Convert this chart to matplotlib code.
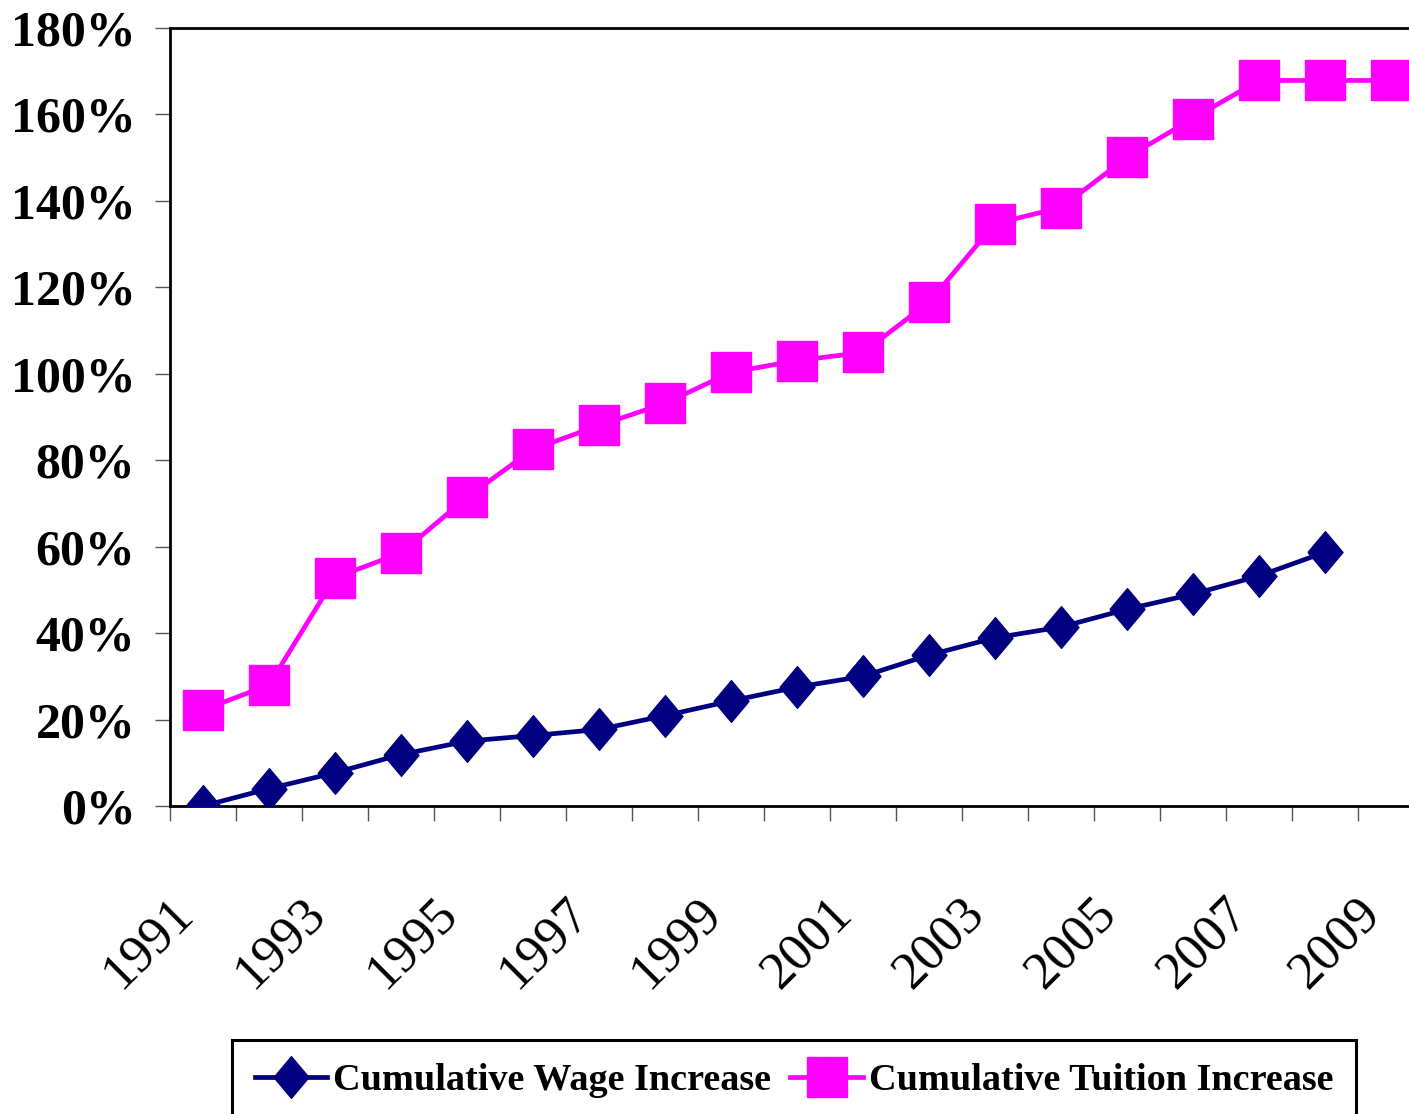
import matplotlib
matplotlib.use("Agg")
import matplotlib.pyplot as plt
from matplotlib.transforms import ScaledTranslation
from matplotlib.ticker import FixedLocator, PercentFormatter

years = list(range(1991, 2010))
wage = [0.0, 4.0, 7.7, 11.9, 15.0, 16.3, 17.7, 20.9, 24.3, 27.5, 30.0, 34.9, 38.9, 41.4, 45.5, 49.0, 53.2, 58.7, None]
tuition = [22.2, 28.0, 52.8, 58.5, 71.4, 82.5, 88.0, 93.1, 100.3, 103.0, 104.9, 116.5, 134.7, 138.4, 150.0, 159.0, 167.8, 167.8, 167.8]
xlabels = [str(y) for y in years[::2]]
yticks = list(range(0, 181, 20))

W, H = 1409, 1114
fig = plt.figure(figsize=(W / 100, H / 100), dpi=100)
ax = fig.add_axes([170 / W, 1 - 806 / H, (1424 - 170) / W, (806 - 27.7) / H])

serif = ["Liberation Serif", "DejaVu Serif"]
x = list(range(len(years)))
wx = [i for i, v in zip(x, wage) if v is not None]
wy = [v for v in wage if v is not None]

diamond = [(-0.42, 0), (0, 0.5), (0.42, 0), (0, -0.5), (-0.42, 0)]
ax.plot(wx, wy, color="#000080", lw=3.4, marker=diamond, ms=30,
        mfc="#000080", mec="#000080", label="Cumulative Wage Increase", zorder=3)
ax.plot(x, tuition, color="#FF00FF", lw=3.4, marker="s", ms=28.5,
        mfc="#FF00FF", mec="#FF00FF", label="Cumulative Tuition Increase", zorder=3)

ax.set_xlim(-0.5, len(years) - 0.5)
ax.set_ylim(0, 180)
ax.set_yticks(yticks)
ax.yaxis.set_major_formatter(PercentFormatter(decimals=0))
for sp in ax.spines.values():
    sp.set_linewidth(2.0)
    sp.set_color("black")

ax.tick_params(axis="y", direction="out", length=10.8, width=1.0, color="#555555",
               pad=14, labelsize=36)
for lab in ax.get_yticklabels():
    lab.set_fontfamily(serif)
    lab.set_fontweight("bold")

ax.set_xticks(x[::2])
ax.set_xticklabels(xlabels, rotation=45, ha="right", va="center",
                   rotation_mode="anchor", fontsize=38, fontfamily=serif)
ax.tick_params(axis="x", which="major", length=0, pad=72)
ax.xaxis.set_minor_locator(FixedLocator([i - 0.5 for i in range(len(years) + 1)]))
ax.tick_params(axis="x", which="minor", direction="out", length=10.8, width=1.0,
               color="#555555")
off = ScaledTranslation(-18 / 100, 0, fig.dpi_scale_trans)
for lab in ax.get_xticklabels():
    lab.set_transform(lab.get_transform() + off)

leg = fig.legend(loc="upper left", bbox_to_anchor=(232 / W, 1 - 1040 / H), ncol=2,
                 frameon=True, fancybox=False, edgecolor="black", framealpha=1,
                 prop={"family": serif, "weight": "bold", "size": 27.5},
                 handlelength=1.9, handletextpad=0.15, columnspacing=0.5,
                 borderpad=0.6, borderaxespad=0)
leg.get_frame().set_linewidth(2.2)

fig.savefig("out.png", dpi=100)
